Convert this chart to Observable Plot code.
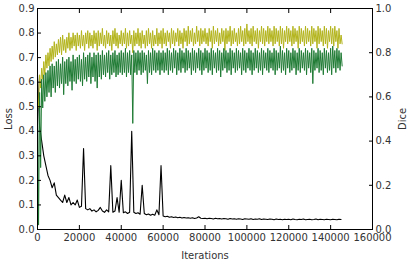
<!DOCTYPE html>
<html><head><meta charset="utf-8">
<script src="https://cdn.jsdelivr.net/npm/d3@7"></script>
<script src="https://cdn.jsdelivr.net/npm/@observablehq/plot@0.6"></script>
<style>body{margin:0;background:#fff;} svg{display:block;}</style>
</head><body><div id="chart"></div>
<script>
// iteration step between successive readings (half-step for dice high/low readings)
const lossStep = 1000;
const diceStep = 500;
const lossValues = [
0.63,0.42,0.36,0.30,0.26,0.22,0.20,0.17,0.19,0.14,
0.13,0.12,0.11,0.14,0.11,0.13,0.10,0.11,0.10,0.12,
0.09,0.095,0.33,0.085,0.08,0.085,0.075,0.08,0.072,0.078,
0.09,0.075,0.07,0.08,0.072,0.26,0.07,0.075,0.13,0.07,
0.20,0.068,0.072,0.065,0.07,0.40,0.07,0.065,0.068,0.062,
0.18,0.065,0.06,0.063,0.058,0.062,0.058,0.08,0.06,0.26,
0.055,0.052,0.054,0.05,0.052,0.049,0.051,0.048,0.05,0.047,
0.049,0.047,0.048,0.046,0.048,0.045,0.047,0.052,0.046,0.045,
0.046,0.044,0.046,0.045,0.043,0.046,0.044,0.045,0.043,0.045,
0.044,0.042,0.045,0.043,0.044,0.042,0.044,0.043,0.041,0.044,
0.043,0.042,0.044,0.041,0.043,0.042,0.044,0.041,0.043,0.042,
0.041,0.043,0.042,0.040,0.043,0.041,0.042,0.040,0.042,0.041,
0.042,0.040,0.043,0.041,0.040,0.042,0.041,0.043,0.040,0.041,
0.042,0.040,0.041,0.043,0.040,0.042,0.041,0.040,0.042,0.041,
0.040,0.042,0.041,0.040,0.042,0.041];
const diceYellow = [
0.62,0.55, 0.70,0.64, 0.73,0.68, 0.76,0.70, 0.79,0.73, 0.80,0.74, 0.82,0.76, 0.83,0.77, 0.85,0.78, 0.84,0.79,
0.86,0.80, 0.87,0.79, 0.88,0.81, 0.86,0.80, 0.87,0.82, 0.89,0.81, 0.87,0.82, 0.89,0.83, 0.88,0.81, 0.89,0.83,
0.88,0.82, 0.90,0.83, 0.88,0.81, 0.89,0.84, 0.90,0.82, 0.89,0.83, 0.88,0.82, 0.90,0.84, 0.89,0.81, 0.90,0.83,
0.89,0.84, 0.91,0.83, 0.88,0.82, 0.90,0.84, 0.89,0.83, 0.88,0.81, 0.90,0.84, 0.91,0.83, 0.89,0.82, 0.88,0.84,
0.90,0.83, 0.89,0.84, 0.91,0.82, 0.89,0.83, 0.90,0.84, 0.88,0.80, 0.90,0.83, 0.89,0.84, 0.91,0.83, 0.89,0.82,
0.90,0.84, 0.88,0.82, 0.90,0.83, 0.91,0.84, 0.89,0.82, 0.90,0.83, 0.88,0.84, 0.91,0.83, 0.89,0.84, 0.90,0.82,
0.91,0.84, 0.89,0.83, 0.90,0.85, 0.89,0.82, 0.91,0.84, 0.90,0.83, 0.89,0.85, 0.91,0.83, 0.90,0.84, 0.89,0.82,
0.91,0.85, 0.90,0.83, 0.92,0.84, 0.90,0.85, 0.91,0.83, 0.89,0.84, 0.92,0.85, 0.90,0.83, 0.91,0.84, 0.90,0.85,
0.91,0.84, 0.89,0.83, 0.91,0.85, 0.90,0.82, 0.92,0.84, 0.90,0.85, 0.91,0.83, 0.89,0.84, 0.91,0.85, 0.90,0.81,
0.91,0.84, 0.90,0.85, 0.92,0.83, 0.90,0.84, 0.91,0.85, 0.89,0.83, 0.91,0.84, 0.92,0.85, 0.90,0.83, 0.91,0.84,
0.93,0.85, 0.90,0.84, 0.91,0.83, 0.92,0.85, 0.90,0.84, 0.91,0.82, 0.90,0.85, 0.92,0.84, 0.91,0.83, 0.90,0.85,
0.92,0.84, 0.91,0.85, 0.90,0.83, 0.92,0.84, 0.91,0.85, 0.90,0.83, 0.92,0.84, 0.91,0.82, 0.90,0.85, 0.92,0.84,
0.91,0.85, 0.90,0.83, 0.92,0.84, 0.91,0.85, 0.90,0.82, 0.92,0.84, 0.91,0.85, 0.90,0.83, 0.92,0.84, 0.91,0.85,
0.90,0.83, 0.92,0.84, 0.91,0.85, 0.90,0.82, 0.92,0.84, 0.91,0.85, 0.90,0.83, 0.92,0.84, 0.91,0.82, 0.90,0.85,
0.92,0.84, 0.91,0.83, 0.92,0.85, 0.90,0.82, 0.91,0.84, 0.88,0.84];
const diceGreen = [
0.62,0.02, 0.62,0.28, 0.68,0.55, 0.70,0.58, 0.71,0.60, 0.72,0.62, 0.74,0.60, 0.75,0.64, 0.74,0.62, 0.76,0.65,
0.77,0.64, 0.75,0.66, 0.78,0.61, 0.76,0.66, 0.77,0.65, 0.78,0.67, 0.76,0.63, 0.79,0.67, 0.77,0.66, 0.78,0.68,
0.79,0.67, 0.77,0.65, 0.80,0.68, 0.78,0.67, 0.79,0.69, 0.80,0.66, 0.78,0.69, 0.80,0.67, 0.79,0.64, 0.80,0.69,
0.79,0.68, 0.81,0.70, 0.79,0.69, 0.80,0.71, 0.81,0.68, 0.79,0.70, 0.80,0.71, 0.81,0.69, 0.79,0.70, 0.80,0.71,
0.81,0.70, 0.80,0.71, 0.82,0.69, 0.80,0.71, 0.81,0.70, 0.79,0.48, 0.81,0.71, 0.80,0.70, 0.81,0.72, 0.80,0.70,
0.81,0.71, 0.80,0.72, 0.79,0.66, 0.81,0.71, 0.80,0.70, 0.82,0.72, 0.81,0.71, 0.80,0.72, 0.81,0.70, 0.80,0.72,
0.81,0.71, 0.80,0.72, 0.82,0.70, 0.81,0.72, 0.80,0.71, 0.82,0.73, 0.81,0.70, 0.80,0.72, 0.82,0.71, 0.81,0.73,
0.80,0.71, 0.82,0.72, 0.81,0.73, 0.80,0.70, 0.82,0.72, 0.81,0.71, 0.80,0.73, 0.82,0.72, 0.81,0.70, 0.80,0.72,
0.82,0.73, 0.81,0.71, 0.80,0.72, 0.82,0.70, 0.81,0.73, 0.80,0.71, 0.82,0.72, 0.81,0.69, 0.80,0.72, 0.82,0.73,
0.81,0.71, 0.80,0.72, 0.82,0.70, 0.81,0.73, 0.80,0.71, 0.82,0.72, 0.81,0.73, 0.80,0.70, 0.82,0.72, 0.81,0.71,
0.80,0.73, 0.82,0.72, 0.81,0.70, 0.80,0.72, 0.82,0.73, 0.81,0.71, 0.80,0.72, 0.82,0.70, 0.81,0.73, 0.80,0.72,
0.82,0.71, 0.81,0.73, 0.80,0.72, 0.82,0.70, 0.81,0.72, 0.80,0.73, 0.83,0.71, 0.81,0.72, 0.80,0.70, 0.82,0.73,
0.81,0.71, 0.80,0.72, 0.82,0.73, 0.81,0.70, 0.80,0.72, 0.82,0.71, 0.81,0.73, 0.80,0.72, 0.82,0.70, 0.81,0.73,
0.80,0.71, 0.82,0.66, 0.81,0.72, 0.80,0.73, 0.82,0.71, 0.81,0.72, 0.80,0.70, 0.82,0.73, 0.81,0.71, 0.80,0.72,
0.82,0.70, 0.83,0.73, 0.81,0.71, 0.82,0.73, 0.81,0.72, 0.80,0.74];
const xTicks = [0,20000,40000,60000,80000,100000,120000,140000,160000];
const lossTicks = [0,0.1,0.2,0.3,0.4,0.5,0.6,0.7,0.8,0.9];
const diceTicks = [0,0.2,0.4,0.6,0.8,1.0];
const lossMax = 0.9, diceMax = 1.0;

const toD = (v) => v * lossMax / diceMax;
const loss = lossValues.map((v,i)=>({x:i*lossStep, y:v}));
const yel = diceYellow.map((v,i)=>({x:i*diceStep, y:toD(v)}));
const grn = diceGreen.map((v,i)=>({x:i*diceStep, y:toD(v)}));
const font = "DejaVu Sans, sans-serif";
const tc = "#333";
const blank = () => "";

const chart = Plot.plot({
  width: 410, height: 262,
  marginLeft: 37, marginRight: 38, marginTop: 8, marginBottom: 33,
  style: {fontFamily: font, fontSize: "10px", color: tc, background: "#fff"},
  x: {domain: [0,160000]},
  y: {domain: [0,lossMax]},
  marks: [
    Plot.line(loss, {x:"x", y:"y", stroke:"#000", strokeWidth:1.1}),
    Plot.line(yel, {x:"x", y:"y", stroke:"#b3b41c", strokeWidth:1}),
    Plot.line(grn, {x:"x", y:"y", stroke:"#1f7b34", strokeWidth:1}),
    Plot.frame({stroke:"#000", strokeWidth:1}),
    Plot.axisX(xTicks, {anchor:"bottom", tickSize:-4, tickFormat:blank, label:null, stroke:"#000"}),
    Plot.axisX(xTicks, {anchor:"top", tickSize:-4, tickFormat:blank, label:null, stroke:"#000"}),
    Plot.axisX(xTicks, {anchor:"bottom", tickSize:0, tickPadding:4, tickFormat:d=>String(d), fill:tc, fontSize:10,
      label:"Iterations", labelAnchor:"center", labelOffset:29, labelArrow:"none"}),
    Plot.axisY(lossTicks, {anchor:"left", tickSize:-4, tickFormat:blank, label:null, stroke:"#000"}),
    Plot.axisY(lossTicks, {anchor:"left", tickSize:0, tickPadding:3, tickFormat:d=>d.toFixed(1), fill:tc, fontSize:10,
      label:"Loss", labelAnchor:"center", labelOffset:33, labelArrow:"none"}),
    Plot.axisY(diceTicks.map(toD), {anchor:"right", tickSize:-4, tickFormat:blank, label:null, stroke:"#000"}),
    Plot.axisY(diceTicks.map(toD), {anchor:"right", tickSize:0, tickPadding:3, tickFormat:d=>(d*diceMax/lossMax).toFixed(1), fill:tc, fontSize:10,
      label:"Dice", labelAnchor:"center", labelOffset:33, labelArrow:"none"})
  ]
});
document.getElementById("chart").appendChild(chart);
</script>
</body></html>
